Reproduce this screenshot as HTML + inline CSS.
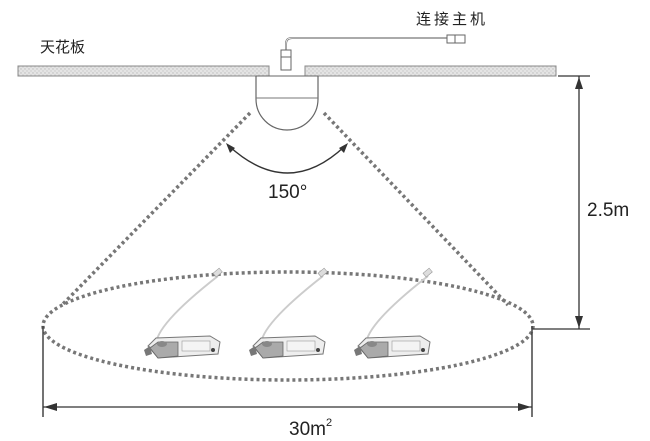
<!DOCTYPE html>
<html><head><meta charset="utf-8"><style>
body{margin:0;background:#fff;width:650px;height:441px;overflow:hidden}
svg{display:block}
text{font-family:"Liberation Sans","Noto Sans CJK SC",sans-serif;fill:#222}
</style></head><body>
<svg width="650" height="441" viewBox="0 0 650 441">
<defs>
<pattern id="hatch" width="4" height="4" patternUnits="userSpaceOnUse">
<rect width="4" height="4" fill="#e4e4e4"/><circle cx="1" cy="1" r="0.7" fill="#bbb"/><circle cx="3" cy="3" r="0.7" fill="#c8c8c8"/>
</pattern>
<g id="mic">
<path d="M8 30 Q6 10 70 -40" fill="none" stroke="#ccc" stroke-width="2"/>
<rect x="66" y="-46" width="8" height="5" transform="rotate(-40 70 -43)" fill="#ddd" stroke="#999" stroke-width="0.6"/>
<path d="M0 30 L8 22 L62 20 L72 26 L70 38 L10 42 Z" fill="#eee" stroke="#777" stroke-width="1"/>
<path d="M2 32 L10 26 L30 26 L30 40 L10 42 Z" fill="#aaa" stroke="#666" stroke-width="0.8"/>
<ellipse cx="14" cy="28" rx="5" ry="3" fill="#888"/>
<rect x="34" y="25" width="28" height="10" fill="#f4f4f4" stroke="#999" stroke-width="0.6"/>
<circle cx="65" cy="34" r="2" fill="#444"/>
<path d="M-4 34 L2 30 L4 38 L-2 40 Z" fill="#777"/>
</g>
</defs>
<text x="40" y="52" font-size="15">天花板</text>
<text x="416" y="24" font-size="15" letter-spacing="3">连接主机</text>
<rect x="18" y="66" width="251" height="10" fill="url(#hatch)" stroke="#888" stroke-width="1"/>
<rect x="305" y="66" width="251" height="10" fill="url(#hatch)" stroke="#888" stroke-width="1"/>
<path d="M286 52 L286 44 Q286 38 292 38 L447 38" fill="none" stroke="#777" stroke-width="2"/>
<path d="M286 52 L286 44 Q286 38 292 38 L447 38" fill="none" stroke="#fff" stroke-width="0.7"/>
<rect x="281" y="50" width="10" height="20" fill="#fff" stroke="#666" stroke-width="1"/>
<line x1="281" y1="57" x2="291" y2="57" stroke="#666"/>
<rect x="447" y="35" width="18" height="8" fill="#fff" stroke="#666" stroke-width="1"/>
<line x1="455" y1="35" x2="455" y2="43" stroke="#666"/>
<path d="M256 76 L256 99 A31 31 0 0 0 318 99 L318 76" fill="#fff" stroke="#666" stroke-width="1.2"/>
<line x1="256" y1="98" x2="318" y2="98" stroke="#777"/>
<line x1="256" y1="76" x2="318" y2="76" stroke="#666"/>
<line x1="250" y1="113" x2="62" y2="305" stroke="#777" stroke-width="3.5" stroke-dasharray="3 3"/>
<line x1="324" y1="113" x2="508" y2="305" stroke="#777" stroke-width="3.5" stroke-dasharray="3 3"/>
<ellipse cx="288" cy="326" rx="245" ry="54" fill="none" stroke="#777" stroke-width="3.5" stroke-dasharray="3 3"/>
<path d="M229 146 Q288 200 345 146" fill="none" stroke="#333" stroke-width="1.4"/>
<path d="M226 143 L230 153 L235 148 Z" fill="#333"/>
<path d="M348 143 L344 153 L339 148 Z" fill="#333"/>
<text x="268" y="198" font-size="19">150°</text>
<use href="#mic" x="148" y="316"/>
<use href="#mic" x="253" y="316"/>
<use href="#mic" x="358" y="316"/>
<line x1="558" y1="76" x2="590" y2="76" stroke="#333" stroke-width="1.3"/>
<line x1="532" y1="329" x2="590" y2="329" stroke="#333" stroke-width="1.3"/>
<line x1="579" y1="76" x2="579" y2="329" stroke="#333" stroke-width="1.3"/>
<path d="M579 77 L575 89 L583 89 Z" fill="#333"/>
<path d="M579 328 L575 316 L583 316 Z" fill="#333"/>
<text x="587" y="216" font-size="19">2.5m</text>
<line x1="43" y1="326" x2="43" y2="417" stroke="#444" stroke-width="1.5"/>
<line x1="532" y1="326" x2="532" y2="417" stroke="#444" stroke-width="1.5"/>
<line x1="43" y1="407" x2="532" y2="407" stroke="#333" stroke-width="1.3"/>
<path d="M44 407 L57 403 L57 411 Z" fill="#333"/>
<path d="M531 407 L518 403 L518 411 Z" fill="#333"/>
<text x="289" y="435" font-size="19">30m<tspan font-size="11" dy="-9">2</tspan></text>
</svg>
</body></html>
